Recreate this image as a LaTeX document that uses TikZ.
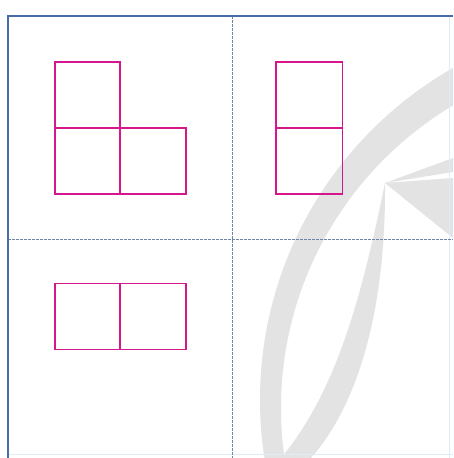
\documentclass[tikz,border=0pt]{standalone}
\definecolor{frameblue}{RGB}{72,108,168}
\definecolor{guideblue}{RGB}{112,132,165}
\definecolor{faintblue}{RGB}{222,236,248}
\definecolor{cellmag}{RGB}{214,22,140}
\definecolor{wmgray}{RGB}{227,227,227}
\tikzset{
  cell/.style={draw=cellmag, line width=1.8pt},
  guide/.style={draw=guideblue, line width=0.8pt, dash pattern=on 2.5pt off 1.5pt},
  frame/.style={draw=frameblue, line width=1.6pt},
  faint/.style={draw=faintblue, line width=1pt},
  wm/.style={fill=wmgray, draw=none}
}
\begin{document}
\begin{tikzpicture}[x=1pt,y=-1pt]
\useasboundingbox (0,0) rectangle (453,458);
\fill[white] (0,0) rectangle (453,458);
% watermark
\begin{scope}
  \clip (8,16) rectangle (453,458);
  \fill[wmgray, even odd rule] (642,400) circle[radius=382] (633,408) circle[radius=352];
  \fill[wm] (385,183) .. controls (363,290) and (338,390) .. (281,458)
            -- (311,458) .. controls (362,400) and (386,300) .. (385,183) -- cycle;
  \fill[wm] (385,183) -- (453,158) -- (453,172) -- cycle;
  \fill[wm] (385,183) -- (453,178) -- (453,238) -- cycle;
\end{scope}
% faint outer edges
\coordinate (rt) at (449.5,16);
\coordinate (rb) at (449.5,458);
\coordinate (bl) at (8,454);
\coordinate (br) at (453,454);
\draw[faint] (rt) -- (rb);
\draw[faint] (bl) -- (br);
% guides
\coordinate (vt) at (232,16);
\coordinate (vb) at (232,458);
\coordinate (hl) at (8,239);
\coordinate (hr) at (453,239);
\draw[guide] (vt) -- (vb);
\draw[guide] (hl) -- (hr);
% frame
\coordinate (ftr) at (453,16);
\coordinate (ftl) at (8,16);
\coordinate (fbl) at (8,458);
\draw[frame] (ftr) -- (ftl) -- (fbl);
% L-shape
\draw[cell] (54.7,62.3) rectangle (120.3,128.3);
\draw[cell] (54.7,128.3) rectangle (120.3,194);
\draw[cell] (120.3,128.3) rectangle (185.7,194);
% vertical pair
\draw[cell] (276,62.3) rectangle (342.5,128.3);
\draw[cell] (276,128.3) rectangle (342.5,194);
% horizontal pair
\draw[cell] (54.7,283.5) rectangle (120.3,349.5);
\draw[cell] (120.3,283.5) rectangle (185.7,349.5);
\end{tikzpicture}
\end{document}
